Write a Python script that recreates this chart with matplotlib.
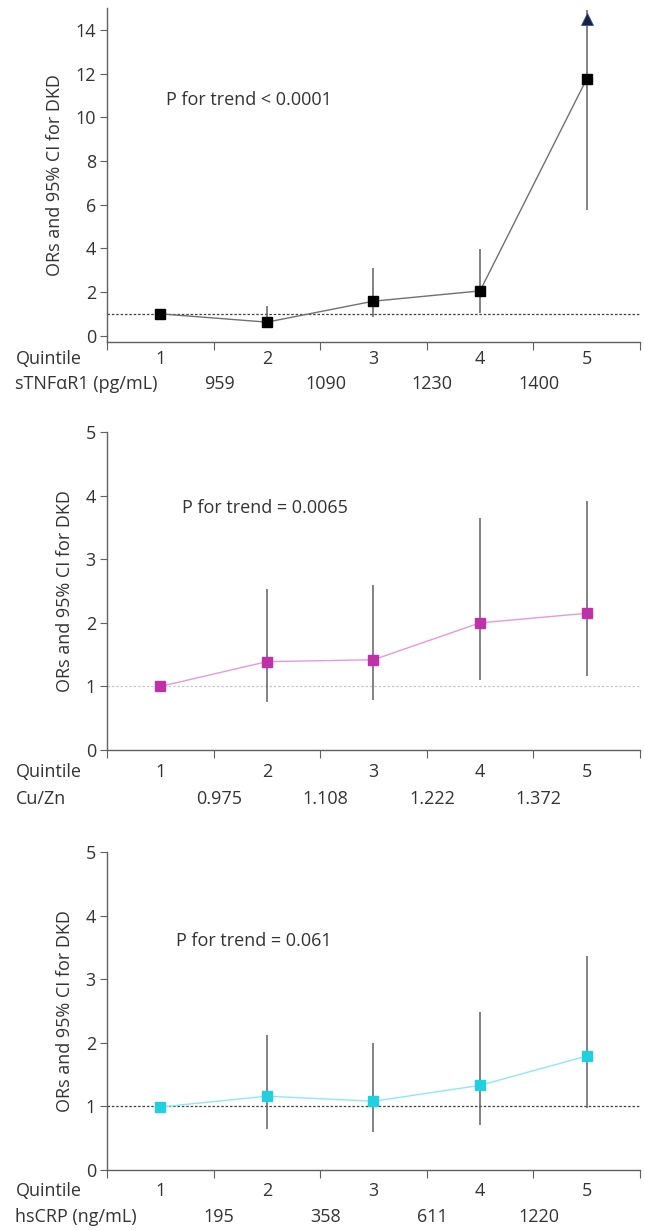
import numpy as np
import matplotlib.pyplot as plt

plt.rcParams['font.family'] = ['Open Sans', 'DejaVu Sans']

quintiles = [1, 2, 3, 4, 5]

# sTNFaR1
or_tnf = [1.0, 0.62, 1.58, 2.05, 11.75]
lo_tnf = [np.nan, 0.35, 0.85, 1.03, 5.77]
hi_tnf = [np.nan, 1.37, 3.08, 3.98, 14.9]
cut_tnf = ['959', '1090', '1230', '1400']

# Cu/Zn
or_cu = [1.0, 1.39, 1.42, 2.0, 2.15]
lo_cu = [np.nan, 0.76, 0.78, 1.10, 1.17]
hi_cu = [np.nan, 2.53, 2.60, 3.65, 3.92]
cut_cu = ['0.975', '1.108', '1.222', '1.372']

# hsCRP
or_crp = [0.99, 1.16, 1.08, 1.33, 1.79]
lo_crp = [np.nan, 0.64, 0.59, 0.71, 0.97]
hi_crp = [np.nan, 2.12, 1.99, 2.48, 3.36]
cut_crp = ['195', '358', '611', '1220']

panels = [
    dict(orv=or_tnf, lo=lo_tnf, hi=hi_tnf, cuts=cut_tnf, name='sTNF\u03b1R1 (pg/mL)',
         p='P for trend < 0.0001', mc='black', lc='#707070', refc='#404040',
         ylim=(-0.3, 15), yticks=range(0, 15, 2), rect=[0.166, 0.722, 0.826, 0.2713],
         ptxt=(1.05, 10.8), rows=(-12, -30)),
    dict(orv=or_cu, lo=lo_cu, hi=hi_cu, cuts=cut_cu, name='Cu/Zn',
         p='P for trend = 0.0065', mc='#C030A8', lc='#E898D8', refc='#C8C8C8',
         ylim=(0, 5), yticks=range(0, 6), rect=[0.166, 0.3907, 0.826, 0.2583],
         ptxt=(1.2, 3.8), rows=(-15.5, -35)),
    dict(orv=or_crp, lo=lo_crp, hi=hi_crp, cuts=cut_crp, name='hsCRP (ng/mL)',
         p='P for trend = 0.061', mc='#20D0E0', lc='#90E8F0', refc='#404040',
         ylim=(0, 5), yticks=range(0, 6), rect=[0.166, 0.0496, 0.826, 0.2583],
         ptxt=(1.15, 3.6), rows=(-15.5, -34)),
]

fig = plt.figure(figsize=(6.45, 12.31), dpi=100)

for i, pn in enumerate(panels):
    ax = fig.add_axes(pn['rect'])
    x = np.array(quintiles)
    orv = np.array(pn['orv'])
    lo = np.array(pn['lo'])
    hi = np.array(pn['hi'])

    ax.axhline(1, xmin=0, xmax=1, color=pn['refc'], ls=(0, (2, 1.5)), lw=0.9, zorder=1)
    ax.plot(x, orv, color=pn['lc'], lw=1.0, zorder=2)
    ax.vlines(x, lo, hi, color='#606060', lw=1.1, zorder=3)
    ax.plot(x, orv, ls='none', marker='s', ms=7.5, color=pn['mc'], zorder=4)
    if i == 0:
        # upper CI runs off the axis: mark it with an arrow head
        ax.plot(x[-1], hi[-1] - 0.4, marker='^', ms=9, color='#1a2238',
                markeredgecolor='#3050a0', markeredgewidth=0.6, zorder=5, clip_on=False)

    ax.set_xlim(0.5, 5.5)
    ax.set_ylim(*pn['ylim'])
    ax.set_yticks(list(pn['yticks']))
    ax.set_xticks(np.arange(0.5, 6, 1))
    ax.set_xticklabels([])
    for s in ['top', 'right']:
        ax.spines[s].set_visible(False)
    for s in ['left', 'bottom']:
        ax.spines[s].set_color('#606060')
        ax.spines[s].set_linewidth(1.0)
    ax.tick_params(axis='y', length=5, color='#606060', labelsize=13, labelcolor='#333333', pad=3)
    ax.tick_params(axis='x', length=6, color='#606060')
    ax.set_ylabel('ORs and 95% CI for DKD', fontsize=13, color='#333333', labelpad=8)

    ax.text(pn['ptxt'][0], pn['ptxt'][1], pn['p'], fontsize=13, color='#333333', va='center')

    # rows under the axis
    r1, r2 = pn['rows']
    ax.annotate('Quintile', xy=(0, 0), xycoords='axes fraction', xytext=(-66, r1),
                textcoords='offset points', fontsize=13, color='#333333', va='center')
    ax.annotate(pn['name'], xy=(0, 0), xycoords='axes fraction', xytext=(-66, r2),
                textcoords='offset points', fontsize=13, color='#333333', va='center')
    for q in quintiles:
        ax.annotate(str(q), xy=(q, 0), xycoords=('data', 'axes fraction'), xytext=(0, r1),
                    textcoords='offset points', fontsize=13, color='#333333',
                    ha='center', va='center')
    for k, c in enumerate(pn['cuts']):
        ax.annotate(c, xy=(k + 1.5, 0), xycoords=('data', 'axes fraction'), xytext=(4, r2),
                    textcoords='offset points', fontsize=13, color='#333333',
                    ha='center', va='center')

fig.savefig('out.png', dpi=100)
